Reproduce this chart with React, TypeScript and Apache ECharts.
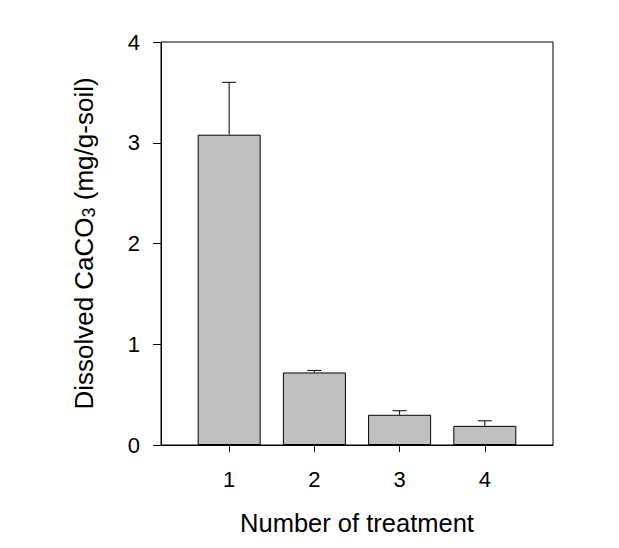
import React, { useEffect, useRef } from "react";
import * as echarts from "echarts";

const treatments = [1, 2, 3, 4];
const dissolved = [3.08, 0.72, 0.3, 0.19];
const errors = [0.52, 0.02, 0.04, 0.05];
const yTicks = [0, 1, 2, 3, 4];

export default function App() {
  const ref = useRef<HTMLDivElement>(null);
  useEffect(() => {
    if (!ref.current) return;
    const chart = echarts.init(ref.current, null, { renderer: "svg" });
    const font = "'Liberation Sans', Arial, sans-serif";
    const barData = treatments.map((t, i) => [t, dissolved[i]]);
    const errData = treatments.map((t, i) => [t, dissolved[i], errors[i]]);
    chart.setOption({
      animation: false,
      backgroundColor: "#fff",
      textStyle: { fontFamily: font, color: "#000" },
      grid: {
        left: 161,
        right: 66,
        top: 42,
        bottom: 103,
        show: true,
        borderColor: "#000",
        borderWidth: 1,
        backgroundColor: "transparent",
      },
      xAxis: {
        type: "value",
        min: 0.2,
        max: 4.8,
        name: "Number of treatment",
        nameLocation: "middle",
        nameGap: 65,
        nameTextStyle: { fontSize: 25.5, color: "#000", fontFamily: font },
        axisLine: { show: true, onZero: false, lineStyle: { color: "#000", width: 1 } },
        axisTick: {
          show: true,
          inside: false,
          length: 7,
          customValues: treatments,
          lineStyle: { color: "#000", width: 1 },
        },
        axisLabel: {
          customValues: treatments,
          fontSize: 22,
          color: "#000",
          margin: 23,
          fontFamily: font,
        },
        splitLine: { show: false },
      },
      yAxis: {
        type: "value",
        min: 0,
        max: 4,
        interval: 1,
        name: "{a|Dissolved CaCO}{b|3}{a| (mg/g-soil)}",
        nameLocation: "middle",
        nameGap: 60,
        nameRotate: 90,
        nameTextStyle: {
          color: "#000",
          fontFamily: font,
          rich: {
            a: { fontSize: 26, fontFamily: font, color: "#000", verticalAlign: "top", lineHeight: 30 },
            b: { fontSize: 18, fontFamily: font, color: "#000", verticalAlign: "top", lineHeight: 30, padding: [9, 0, 0, 0] },
          },
        },
        axisLine: { show: true, lineStyle: { color: "#000", width: 1 } },
        axisTick: { show: true, inside: false, length: 8, lineStyle: { color: "#000", width: 1 } },
        axisLabel: {
          fontSize: 22,
          color: "#000",
          margin: 21,
          fontFamily: font,
          formatter: (v: number) => (yTicks.includes(v) ? String(v) : ""),
        },
        splitLine: { show: false },
      },
      series: [
        {
          type: "bar",
          data: barData,
          barWidth: 63,
          itemStyle: { color: "#c0c0c0", borderColor: "#000", borderWidth: 1 },
          z: 2,
        },
        {
          type: "custom",
          data: errData,
          encode: { x: 0, y: 1 },
          z: 3,
          renderItem: (params: any, api: any) => {
            const x = api.value(0);
            const y = api.value(1);
            const e = api.value(2);
            const p0 = api.coord([x, y]);
            const p1 = api.coord([x, y + e]);
            const half = 7;
            const style = { stroke: "#000", lineWidth: 1 };
            return {
              type: "group",
              children: [
                { type: "line", shape: { x1: p0[0], y1: p0[1], x2: p1[0], y2: p1[1] }, style },
                { type: "line", shape: { x1: p1[0] - half, y1: p1[1], x2: p1[0] + half, y2: p1[1] }, style },
              ],
            };
          },
        },
      ],
    });
    return () => chart.dispose();
  }, []);
  return (
    <div
      ref={ref}
      style={{ position: "fixed", left: 0, top: 0, width: 619, height: 548, background: "#fff" }}
    />
  );
}
